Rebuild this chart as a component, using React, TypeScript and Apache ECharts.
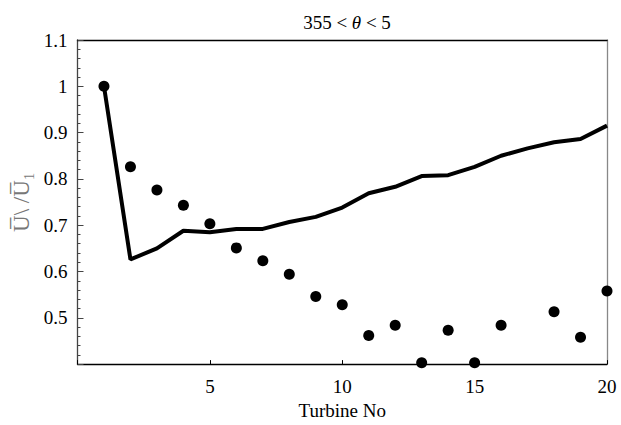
import React, { useEffect, useRef } from "react";
import * as echarts from "echarts";

const turbineNo = [1, 2, 3, 4, 5, 6, 7, 8, 9, 10, 11, 12, 13, 14, 15, 16, 17, 18, 19, 20];
const modelValues = [1.0, 0.626, 0.65, 0.688, 0.685, 0.692, 0.692, 0.707, 0.718, 0.738, 0.769, 0.783, 0.806, 0.808, 0.826, 0.85, 0.866, 0.879, 0.886, 0.915];
const measuredTurbines = [1, 2, 3, 4, 5, 6, 7, 8, 9, 10, 11, 12, 13, 14, 15, 16, 18, 19, 20];
const measuredValues = [1.0, 0.826, 0.776, 0.743, 0.703, 0.651, 0.623, 0.594, 0.546, 0.528, 0.462, 0.484, 0.403, 0.473, 0.403, 0.484, 0.513, 0.458, 0.558];
const xTicks = [5, 10, 15, 20];
const yTicks = [0.5, 0.6, 0.7, 0.8, 0.9, 1, 1.1];

const FONT = "'Liberation Serif', 'Times New Roman', serif";

export default function App() {
  const ref = useRef<HTMLDivElement>(null);
  useEffect(() => {
    if (!ref.current) return;
    const chart = echarts.init(ref.current, undefined, { renderer: "svg" });
    const lineData = turbineNo.map((t, i) => [t, modelValues[i]]);
    const dotData = measuredTurbines.map((t, i) => [t, measuredValues[i]]);
    chart.setOption({
      animation: false,
      backgroundColor: "#ffffff",
      title: {
        text: "{n|355 < }{i|θ}{n| < 5}",
        left: 342,
        textAlign: "center",
        top: 8,
        textStyle: {
          fontWeight: "normal",
          rich: {
            n: { fontFamily: FONT, fontSize: 19, fontWeight: "normal", color: "#000" },
            i: { fontFamily: FONT, fontSize: 19, fontWeight: "normal", fontStyle: "italic", color: "#000" },
          },
        },
      },
      grid: { left: 77.5, right: 14, top: 40, bottom: 58 },
      xAxis: [
        {
          type: "value",
          min: 0,
          max: 20,
          interval: 5,
          name: "Turbine No",
          nameLocation: "middle",
          nameGap: 36,
          nameTextStyle: { fontFamily: FONT, fontSize: 19, color: "#000" },
          axisLine: { show: true, onZero: false, lineStyle: { color: "#000", width: 1.3 } },
          axisTick: { show: true, inside: true, length: 4, lineStyle: { color: "#000" } },
          axisLabel: {
            margin: 13,
            fontFamily: FONT,
            fontSize: 19,
            color: "#000",
            formatter: (v: number) => (xTicks.includes(v) ? String(v) : ""),
          },
          splitLine: { show: false },
        },
        {
          type: "value",
          position: "top",
          min: 0,
          max: 20,
          interval: 5,
          axisLine: { show: true, onZero: false, lineStyle: { color: "#000", width: 1.3 } },
          axisTick: { show: false },
          axisLabel: { show: false },
          splitLine: { show: false },
        },
      ],
      yAxis: [
        {
          type: "value",
          min: 0.4,
          max: 1.1,
          interval: 0.1,
          name: "U\u0305\\ /U\u0305\u2081",
          nameLocation: "middle",
          nameRotate: 90,
          nameGap: 44,
          nameTextStyle: { fontFamily: FONT, fontSize: 23, color: "#777" },
          axisLine: { show: true, onZero: false, lineStyle: { color: "#444", width: 1.3 } },
          axisTick: { show: true, inside: true, length: 6, lineStyle: { color: "#444" } },
          minorTick: { show: true, splitNumber: 5, length: 3, lineStyle: { color: "#444" } },
          axisLabel: {
            margin: 10,
            fontFamily: FONT,
            fontSize: 19,
            color: "#000",
            formatter: (v: number) => {
              const r = Math.round(v * 10) / 10;
              return yTicks.includes(r) ? String(r) : "";
            },
          },
          splitLine: { show: false },
        },
        {
          type: "value",
          position: "right",
          min: 0.4,
          max: 1.1,
          interval: 0.1,
          axisLine: { show: true, onZero: false, lineStyle: { color: "#888", width: 1.3 } },
          axisTick: { show: false },
          axisLabel: { show: false },
          splitLine: { show: false },
        },
      ],
      series: [
        {
          type: "line",
          data: lineData,
          showSymbol: false,
          symbol: "none",
          lineStyle: { color: "#000", width: 4 },
          xAxisIndex: 0,
          yAxisIndex: 0,
          z: 2,
        },
        {
          type: "scatter",
          data: dotData,
          symbol: "circle",
          symbolSize: 11,
          itemStyle: { color: "#000", opacity: 1 },
          xAxisIndex: 0,
          yAxisIndex: 0,
          clip: false,
          z: 3,
        },
      ],
    });
    return () => chart.dispose();
  }, []);
  return (
    <div
      ref={ref}
      style={{ position: "absolute", left: 0, top: 0, width: 621, height: 425 }}
    />
  );
}
